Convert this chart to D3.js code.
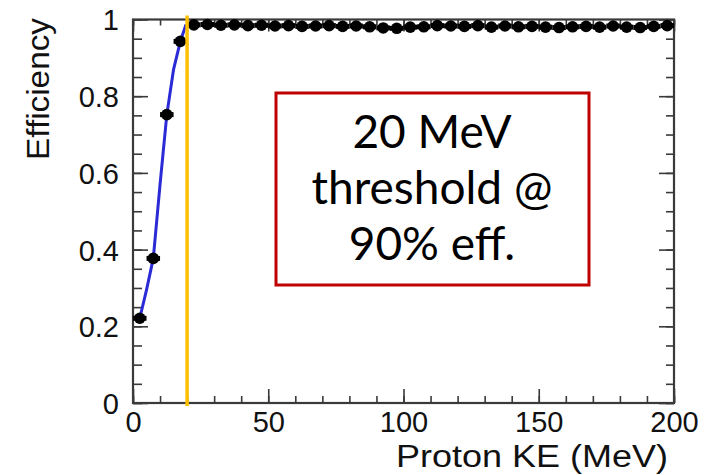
<!DOCTYPE html>
<html>
<head>
<meta charset="utf-8">
<script src="https://cdn.jsdelivr.net/npm/d3@7"></script>
<style>
  html, body { margin: 0; padding: 0; background: #fff; }
  svg { display: block; }
</style>
</head>
<body>
<svg id="chart" width="720" height="475"></svg>
<script>
// Proton detection efficiency vs kinetic energy

// Turn-on region (fitted curve shown in blue)
const turnOnKE  = [2.5, 7.5, 12.5, 17.5];
const turnOnEff = [0.221, 0.377, 0.752, 0.943];

// Fit curve through the turn-on region
const fitKE  = [2.5, 5.0, 7.5, 10.0, 12.5, 15.0, 17.5, 19.6];
const fitEff = [0.221, 0.295, 0.377, 0.57, 0.752, 0.87, 0.943, 0.987];

// Plateau region
const plateauKE = [22.5, 27.5, 32.5, 37.5, 42.5, 47.5, 52.5, 57.5, 62.5, 67.5,
                   72.5, 77.5, 82.5, 87.5, 92.5, 97.5, 102.5, 107.5, 112.5, 117.5,
                   122.5, 127.5, 132.5, 137.5, 142.5, 147.5, 152.5, 157.5, 162.5, 167.5,
                   172.5, 177.5, 182.5, 187.5, 192.5, 197.5];
const plateauEff = [0.986, 0.987, 0.985, 0.986, 0.984, 0.985, 0.983, 0.984, 0.982, 0.983,
                    0.984, 0.982, 0.983, 0.981, 0.978, 0.977, 0.980, 0.981, 0.984, 0.983,
                    0.982, 0.984, 0.980, 0.983, 0.981, 0.982, 0.980, 0.979, 0.981, 0.982,
                    0.980, 0.983, 0.980, 0.979, 0.982, 0.984];
const binHalfWidth = 2.5;

// Threshold marker
const thresholdKE = 20;

// Axes
const xMajorTicks = [0, 50, 100, 150, 200];
const xTickLabels = ["0", "50", "100", "150", "200"];
const xMinorTicks = d3.range(0, 201, 10);
const yMajorTicks = [0, 0.2, 0.4, 0.6, 0.8, 1];
const yTickLabels = ["0", "0.2", "0.4", "0.6", "0.8", "1"];
const yMinorTicks = d3.range(0, 21).map(i => i * 0.05);

const xTitle = "Proton KE (MeV)";
const yTitle = "Efficiency";
const noteLines = ["20 MeV", "threshold @", "90% eff."];

const svg = d3.select("#chart");
const x = d3.scaleLinear().domain([0, 200]).range([133, 674]);
const y = d3.scaleLinear().domain([0, 1]).range([403, 19.5]);

const axisColor = "#3a3a3a";
const tickFont = "Liberation Sans, Arial, Helvetica, sans-serif";

function styleAxis(g) {
  g.select(".domain").remove();
  g.selectAll(".tick line").attr("stroke", axisColor).attr("stroke-width", 1.6);
  g.selectAll(".tick text")
    .attr("font-family", tickFont)
    .attr("font-size", 29)
    .attr("fill", "#111");
}

// Bottom axis: major + minor ticks pointing inward
svg.append("g").attr("transform", `translate(0,${y(0)})`)
  .call(d3.axisBottom(x).tickValues(xMinorTicks).tickSize(-7).tickFormat(""))
  .call(styleAxis);
svg.append("g").attr("transform", `translate(0,${y(0)})`)
  .call(d3.axisBottom(x).tickValues(xMajorTicks).tickSize(-14).tickPadding(6)
        .tickFormat((d, i) => xTickLabels[i]))
  .call(styleAxis)
  .call(g => g.selectAll(".tick text").attr("dy", "0.78em"));

// Top axis (mirror ticks)
svg.append("g").attr("transform", `translate(0,${y(1)})`)
  .call(d3.axisTop(x).tickValues(xMinorTicks).tickSize(-6).tickFormat(""))
  .call(styleAxis);
svg.append("g").attr("transform", `translate(0,${y(1)})`)
  .call(d3.axisTop(x).tickValues(xMajorTicks).tickSize(-12).tickFormat(""))
  .call(styleAxis);

// Left axis
svg.append("g").attr("transform", `translate(${x(0)},0)`)
  .call(d3.axisLeft(y).tickValues(yMinorTicks).tickSize(-9).tickFormat(""))
  .call(styleAxis);
svg.append("g").attr("transform", `translate(${x(0)},0)`)
  .call(d3.axisLeft(y).tickValues(yMajorTicks).tickSize(-15).tickPadding(14)
        .tickFormat((d, i) => yTickLabels[i]))
  .call(styleAxis)
  .call(g => g.selectAll(".tick text").attr("dy", "0.36em"));

// Right axis (mirror ticks)
svg.append("g").attr("transform", `translate(${x(200)},0)`)
  .call(d3.axisRight(y).tickValues(yMinorTicks).tickSize(-8).tickFormat(""))
  .call(styleAxis);
svg.append("g").attr("transform", `translate(${x(200)},0)`)
  .call(d3.axisRight(y).tickValues(yMajorTicks).tickSize(-15).tickFormat(""))
  .call(styleAxis);

// Frame
svg.append("rect")
  .attr("x", x(0)).attr("y", y(1))
  .attr("width", x(200) - x(0)).attr("height", y(0) - y(1))
  .attr("fill", "none").attr("stroke", axisColor).attr("stroke-width", 2.2);

// Fit curve
const fitData = fitKE.map((k, i) => [k, fitEff[i]]);
svg.append("path")
  .datum(fitData)
  .attr("fill", "none")
  .attr("stroke", "#2a2ad6")
  .attr("stroke-width", 3)
  .attr("d", d3.line().x(d => x(d[0])).y(d => y(d[1])));

// Data points with horizontal bin-width error bars
function drawPoints(keArr, effArr) {
  const pts = keArr.map((k, i) => ({ k, e: effArr[i] }));
  const g = svg.append("g");
  g.selectAll("line.err").data(pts).join("line")
    .attr("class", "err")
    .attr("x1", d => x(d.k - binHalfWidth)).attr("x2", d => x(d.k + binHalfWidth))
    .attr("y1", d => y(d.e)).attr("y2", d => y(d.e))
    .attr("stroke", "#000").attr("stroke-width", 5);
  g.selectAll("circle").data(pts).join("circle")
    .attr("cx", d => x(d.k)).attr("cy", d => y(d.e)).attr("r", 5.8)
    .attr("fill", "#000");
}
drawPoints(turnOnKE, turnOnEff);
drawPoints(plateauKE, plateauEff);

// Threshold line
svg.append("line")
  .attr("x1", x(thresholdKE)).attr("x2", x(thresholdKE))
  .attr("y1", y(1) - 4).attr("y2", y(0) + 3)
  .attr("stroke", "#FFC000").attr("stroke-width", 3.5);

// Axis titles
svg.append("text")
  .attr("x", 668).attr("y", 467)
  .attr("text-anchor", "end")
  .attr("font-family", tickFont).attr("font-size", 31)
  .attr("textLength", 272).attr("lengthAdjust", "spacingAndGlyphs")
  .attr("fill", "#111")
  .text(xTitle);

svg.append("text")
  .attr("transform", "translate(49,89) rotate(-90)")
  .attr("text-anchor", "middle")
  .attr("font-family", tickFont).attr("font-size", 31)
  .attr("textLength", 142).attr("lengthAdjust", "spacingAndGlyphs")
  .attr("fill", "#111")
  .text(yTitle);

// Annotation box
svg.append("rect")
  .attr("x", 276).attr("y", 93).attr("width", 313).attr("height", 192)
  .attr("fill", "#fff").attr("stroke", "#C00000").attr("stroke-width", 3);

svg.append("g").selectAll("text").data(noteLines).join("text")
  .attr("x", 432)
  .attr("y", (d, i) => 148 + i * 56)
  .attr("text-anchor", "middle")
  .attr("font-family", "Lato, 'Open Sans', sans-serif")
  .attr("font-size", 46)
  .attr("fill", "#000")
  .text(d => d);
</script>
</body>
</html>
